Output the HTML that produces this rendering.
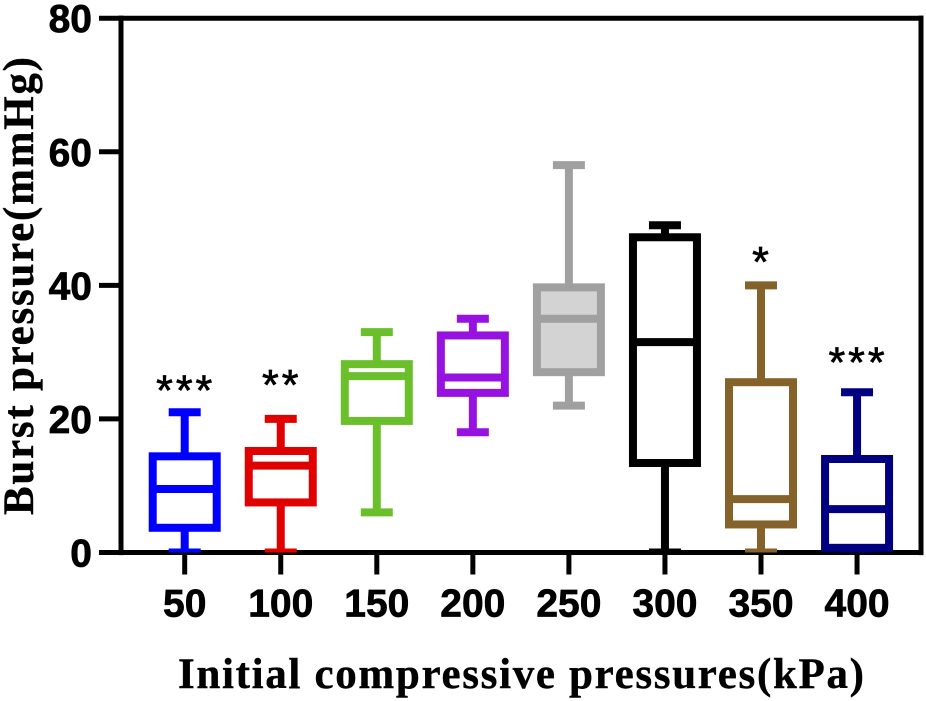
<!DOCTYPE html>
<html lang="en">
<head>
<meta charset="utf-8">
<title>Burst pressure box plot</title>
<style>
html,body{margin:0;padding:0;background:#fff;}
svg{display:block;}
.tick{font:bold 39px "Liberation Sans",sans-serif;fill:#000;stroke:#000;stroke-width:0.7px;}
.title{font:bold 43px "Liberation Serif",serif;fill:#000;stroke:#000;stroke-width:0.4px;}
.sig{font:normal 43px "Liberation Sans",sans-serif;fill:#000;stroke:#000;stroke-width:0.7px;letter-spacing:3px;}
</style>
</head>
<body>
<svg id="chart" xmlns="http://www.w3.org/2000/svg" width="926" height="701" viewBox="0 0 926 701">
  <rect x="0" y="0" width="926" height="701" fill="#ffffff"/>
  <defs>
    <clipPath id="plot-clip"><rect x="0" y="0" width="926" height="552.5"/></clipPath>
  </defs>
  <g id="axes"></g>
  <g id="boxes" clip-path="url(#plot-clip)"></g>
  <g id="labels"></g>
  <text class="title" x="178" y="688" textLength="686" lengthAdjust="spacing">Initial compressive pressures(kPa)</text>
  <text class="title" transform="translate(33,515) rotate(-90)" x="0" y="0" textLength="458" lengthAdjust="spacing">Burst pressure(mmHg)</text>
</svg>
<script>
const categories = ['50', '100', '150', '200', '250', '300', '350', '400'];
const whiskerLow = [0, 0, 6, 18, 22, 0, 0, 0];
const boxLow = [3.7, 7.5, 19.7, 23.9, 27, 13.4, 4.2, 0.7];
const medians = [9.5, 13, 26.4, 26.2, 35, 31.5, 8, 6.5];
const boxHigh = [14.4, 15.2, 28.2, 32.5, 39.7, 47.2, 25.5, 14];
const whiskerHigh = [21, 20, 33, 35, 58, 49, 40, 24];
const strokeColors = ['#0000ff', '#e00000', '#6abf2a', '#9512e0', '#a0a0a0', '#000000', '#85622a', '#000080'];
const fillColors = ['none', 'none', 'none', 'none', '#d3d3d3', 'none', 'none', 'none'];
const yTicks = [0, 20, 40, 60, 80];
const sigMarks = ['***', '**', '', '', '', '', '*', '***'];
const sigLevels = [22.1, 22.9, 0, 0, 0, 0, 41.3, 26.3];

const NS = 'http://www.w3.org/2000/svg';
function yScale(v) { return 552.5 - (v / 80) * 534.3; }
function xScale(i) { return 184.7 + i * 96.05; }
function make(tag, parent, props) {
  const el = document.createElementNS(NS, tag);
  for (const k in props) el.setAttribute(k, props[k]);
  parent.appendChild(el);
  return el;
}
function line(parent, x1, y1, x2, y2, color, width) {
  return make('line', parent, { x1: x1, y1: y1, x2: x2, y2: y2, stroke: color, 'stroke-width': width });
}

const axes = document.getElementById('axes');
const boxes = document.getElementById('boxes');
const labels = document.getElementById('labels');

const leftAxis = line(axes, 121, yScale(80) - 2.6, 121, yScale(0) + 2.6, '#000', 5);


const rightAxis = line(axes, 921, yScale(80) - 2.6, 921, yScale(0) + 2.6, '#000', 5);


const bottomAxis = line(axes, 121, yScale(0), 923.5, yScale(0), '#000', 5);


const topAxis = line(axes, 121, yScale(80), 923.5, yScale(80), '#000', 5);



yTicks.forEach(function (t) {
  const y = yScale(t);
  const mark = line(axes, 99, y, 121, y, '#000', 5);
  
  
  const label = make('text', labels, { class: 'tick', x: 92, y: y + 14, 'text-anchor': 'end' });
  label.textContent = String(t);
  
  
});

categories.forEach(function (c, i) {
  const x = xScale(i);
  const color = strokeColors[i];

  const mark = line(axes, x, 552.5, x, 574.5, '#000', 5);
  
  
  const label = make('text', labels, { class: 'tick', x: x, y: 616.5, 'text-anchor': 'middle' });
  label.textContent = c;
  
  

  const group = make('g', boxes, {});
  
  

  const upper = line(group, x, yScale(whiskerHigh[i]), x, yScale(boxHigh[i]), color, 8);
  
  
  const lower = line(group, x, yScale(boxLow[i]), x, yScale(whiskerLow[i]), color, 8);
  
  
  const capHigh = line(group, x - 16, yScale(whiskerHigh[i]), x + 16, yScale(whiskerHigh[i]), color, 8);
  
  
  const capLow = line(group, x - 16, yScale(whiskerLow[i]), x + 16, yScale(whiskerLow[i]), color, 8);
  
  
  const box = make('rect', group, {
    x: x - 32,
    y: yScale(boxHigh[i]),
    width: 64,
    height: yScale(boxLow[i]) - yScale(boxHigh[i]),
    fill: fillColors[i] === 'none' ? '#ffffff' : fillColors[i],
    stroke: color,
    'stroke-width': 8
  });
  
  
  const median = line(group, x - 32, yScale(medians[i]), x + 32, yScale(medians[i]), color, 8);
  
  

  if (sigMarks[i]) {
    const sig = make('text', labels, { class: 'sig', x: x + 1, y: yScale(sigLevels[i]), 'text-anchor': 'middle' });
    sig.textContent = sigMarks[i];
    
    
  }
});
</script>
</body>
</html>
